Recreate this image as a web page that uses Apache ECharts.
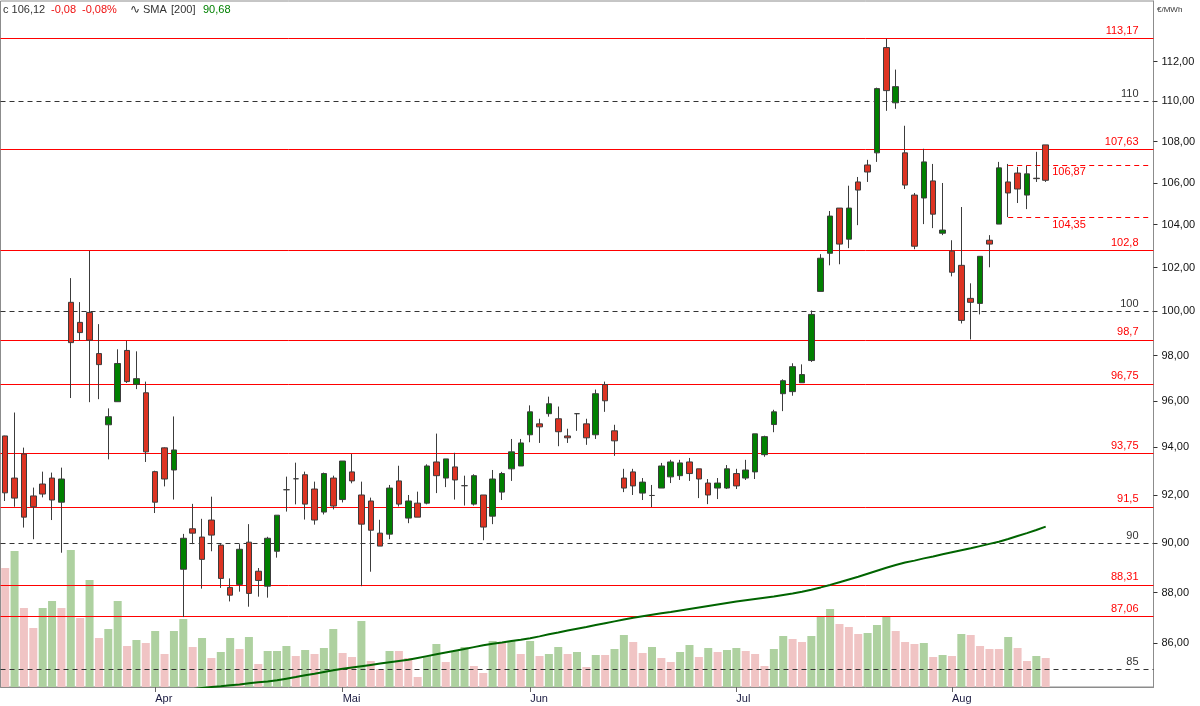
<!DOCTYPE html>
<html>
<head>
<meta charset="utf-8">
<script src="https://cdn.jsdelivr.net/npm/echarts@6/dist/echarts.min.js"></script>
<style>
html,body{margin:0;padding:0;background:#fff;}
#chart{width:1200px;height:706px;}
</style>
</head>
<body>
<div id="chart"></div>
<script>
// ---- data ----
const openP  = [94.49,92.70,93.72,91.95,92.45,92.70,91.69,100.40,99.49,99.94,98.09,94.97,95.97,98.23,96.73,96.36,92.97,93.98,93.04,88.94,90.59,90.25,90.95,89.92,88.21,88.33,90.04,88.86,88.26,89.67,92.21,92.67,92.84,92.24,91.28,92.70,91.80,92.96,91.99,91.74,90.41,90.37,92.58,91.03,91.65,91.65,93.38,92.70,93.17,92.38,91.61,91.99,91.11,92.11,93.09,93.21,94.54,95.01,95.45,95.23,94.49,95.45,95.01,94.54,96.72,94.71,92.70,92.96,92.07,91.97,92.28,92.75,92.80,93.38,93.09,92.49,92.28,92.28,92.89,92.70,92.96,93.69,94.98,96.32,96.41,96.80,97.78,100.90,102.66,104.79,103.32,106.04,106.86,107.45,112.71,109.92,107.45,105.41,105.27,106.09,103.60,102.76,102.10,100.58,100.35,103.27,104.03,106.04,106.47,105.41,106.22,107.84];
const highP  = [94.50,95.50,93.99,92.30,92.97,92.93,93.14,101.51,100.41,102.77,99.41,95.68,98.28,98.66,98.19,96.85,93.01,94.00,95.33,90.38,91.62,91.00,91.92,89.96,88.57,89.96,90.78,88.99,90.26,91.15,92.76,93.35,92.97,92.55,92.93,92.80,93.42,93.72,92.55,91.88,90.96,92.41,93.22,91.99,92.13,93.28,94.59,93.51,93.77,92.80,92.86,91.99,93.04,92.96,94.36,94.36,95.81,95.23,96.19,95.76,94.80,95.47,95.23,96.50,96.85,94.97,93.09,93.09,92.70,92.41,93.34,93.47,93.47,93.55,93.09,92.66,92.70,93.25,93.09,93.47,94.58,94.50,95.62,96.95,97.66,97.61,100.03,102.62,104.65,104.79,105.86,106.28,107.11,110.68,113.17,111.59,108.78,105.51,107.65,106.91,105.99,103.27,104.84,101.27,102.52,103.51,107.01,106.91,106.77,106.81,107.50,107.84];
const lowP   = [91.74,91.50,90.64,90.16,91.89,90.95,89.61,96.13,98.69,95.95,96.08,93.49,95.97,96.79,96.52,93.38,91.24,92.35,91.80,87.03,89.96,88.16,89.67,88.19,87.65,88.04,87.44,87.84,87.80,89.41,91.30,91.60,90.97,90.76,91.18,91.39,91.68,92.48,88.26,88.84,89.88,90.16,91.51,90.82,91.07,91.60,92.07,92.32,91.80,91.55,91.55,90.12,90.78,91.78,92.58,93.21,94.22,94.19,95.32,94.05,94.19,94.71,94.11,94.36,95.53,93.64,92.11,91.99,91.78,91.49,92.28,92.49,92.62,92.58,91.86,91.61,91.82,92.24,92.24,92.62,92.66,93.60,94.65,95.56,96.23,96.80,97.72,100.90,102.10,102.15,102.90,103.98,106.04,107.01,109.52,109.62,105.70,102.85,104.03,103.84,103.51,101.59,99.44,98.72,99.85,102.01,104.03,104.36,105.03,104.74,106.04,106.04];
const closeP = [92.08,91.86,91.07,91.50,92.03,91.78,92.66,98.58,99.03,98.69,97.60,95.32,97.65,96.85,96.98,93.81,91.69,92.66,93.89,90.20,90.41,89.34,90.33,88.57,87.90,89.75,87.97,88.49,90.20,91.15,92.21,92.67,91.61,90.95,92.89,91.53,93.42,92.58,90.78,90.53,89.88,92.28,91.61,91.74,91.07,93.21,92.80,93.51,92.62,92.38,92.80,90.66,92.66,92.89,93.81,94.19,95.53,94.88,95.88,94.67,94.41,95.45,94.41,96.32,96.01,94.28,92.28,92.37,92.53,91.97,93.21,93.38,93.34,92.89,92.66,91.99,92.49,93.09,92.37,93.04,94.58,94.46,95.53,96.89,97.51,97.16,99.85,102.43,104.41,103.09,104.79,105.65,106.52,110.63,110.53,110.73,105.89,102.99,107.01,104.50,103.75,101.78,99.58,100.40,102.52,103.09,106.72,105.51,105.70,106.43,106.20,106.12];
const volume = [4760,5440,3160,2360,3160,3440,3160,5480,2760,4280,1960,2320,3440,1640,1880,1760,2240,1320,2240,2720,1600,1960,1160,1400,1960,1520,2000,920,1440,1440,1640,1240,1480,1320,1560,2320,1360,1200,2640,1040,720,1440,1440,1160,400,1240,1720,1000,1440,1600,840,560,1840,1760,1840,1320,1840,1240,1320,1600,1320,1400,800,1280,1280,1520,2080,1800,1360,1600,1160,1000,1400,1680,1200,1560,1400,1480,1560,1440,1320,840,1520,2040,1920,1800,2040,2800,3120,2520,2400,2120,2160,2480,2800,2240,1800,1720,1760,1200,1280,1240,2120,2080,1640,1520,1520,2000,1560,1040,1240,1160];
const volumeUp = [0,1,0,0,1,1,0,1,0,1,0,1,1,0,1,0,1,0,1,1,0,1,0,1,1,0,1,0,1,1,1,0,1,0,1,1,0,0,1,0,0,1,0,0,0,1,1,0,1,1,0,0,1,0,1,0,1,0,1,1,0,1,0,1,0,1,1,0,0,1,0,0,1,1,0,1,0,1,1,0,0,0,1,1,0,0,1,1,1,0,0,0,1,1,1,0,0,0,1,0,1,0,1,0,0,0,0,1,0,0,1,0];
const sma200 = [null,null,null,null,null,null,null,null,null,null,null,null,null,null,null,null,null,null,null,null,84.23,84.27,84.31,84.34,84.38,84.41,84.45,84.49,84.52,84.57,84.63,84.69,84.76,84.82,84.89,84.95,85.01,85.06,85.11,85.16,85.21,85.26,85.31,85.36,85.43,85.50,85.57,85.64,85.71,85.78,85.85,85.92,85.98,86.03,86.09,86.14,86.20,86.27,86.35,86.42,86.50,86.57,86.64,86.72,86.79,86.86,86.93,87.00,87.06,87.12,87.18,87.23,87.29,87.35,87.41,87.47,87.53,87.59,87.65,87.70,87.75,87.80,87.85,87.91,87.97,88.04,88.12,88.21,88.31,88.42,88.53,88.64,88.76,88.88,89.00,89.11,89.21,89.29,89.38,89.46,89.55,89.63,89.71,89.79,89.88,89.97,90.06,90.17,90.29,90.41,90.54,90.68];
const monthIndex = [16,36,56,78,101];
const monthLabels = ['Apr','Mai','Jun','Jul','Aug'];
const priceTicks = [86,88,90,92,94,96,98,100,102,104,106,108,110,112];
const solidLevels = [113.17,107.63,102.8,98.7,96.75,93.75,91.5,88.31,87.06];
const solidLabels = ['113,17','107,63','102,8','98,7','96,75','93,75','91,5','88,31','87,06'];
const dashedLevels = [110,100,90,85];
const dashedLabels = ['110','100','90','85'];
const rangeLevels = [106.87,104.35];
const rangeLabels = ['106,87','104,35'];
const rangeStart = 107, rangeEnd = 122;
const slotCount = 123;
const priceMin = 84.31, priceMax = 115.12;
const volumeMax = 27440;
const header = {last:'c 106,12', chg:'-0,08', pct:'-0,08%', sma:'SMA', period:'[200]', smaVal:'90,68', unit:'€/MWh'};

// ---- build ----
const LN = Math.log;
const FONT = '"Liberation Sans", Arial, sans-serif';
const categories = [];
for (let i = 0; i < slotCount; i++) categories.push('d' + i);
const candleData = openP.map((o, i) => [LN(o), LN(closeP[i]), LN(lowP[i]), LN(highP[i])]);
const volData = volume.map((v, i) => ({value: v, itemStyle: {color: volumeUp[i] ? '#aed1a0' : '#f0c4c4'}}));
const smaData = sma200.map(v => v == null ? null : LN(v));
const tickLn = priceTicks.map(LN);

const markData = [];
solidLevels.forEach((v, i) => markData.push({
  yAxis: LN(v),
  lineStyle: {color: '#ff0000', type: 'solid', width: 1},
  label: {formatter: solidLabels[i], color: '#ff0000'}
}));
dashedLevels.forEach((v, i) => markData.push({
  yAxis: LN(v),
  lineStyle: {color: '#333333', type: [5, 4], width: 1},
  label: {formatter: dashedLabels[i], color: '#333333'}
}));
rangeLevels.forEach((v, i) => markData.push([
  {coord: [categories[rangeStart], LN(v)],
   lineStyle: {color: '#ff0000', type: [5, 4], width: 1},
   label: {formatter: rangeLabels[i], color: '#ff0000', position: 'insideStartBottom', distance: [44, 2]}},
  {coord: [categories[rangeEnd], LN(v)]}
]));

const chart = echarts.init(document.getElementById('chart'), null, {renderer: 'canvas'});
chart.setOption({
  animation: false,
  backgroundColor: '#ffffff',
  textStyle: {fontFamily: FONT},
  grid: {left: 0.5, right: 46.5, top: 1, bottom: 19, show: true, borderColor: '#8c8c8c', borderWidth: 1, backgroundColor: 'transparent'},
  xAxis: {
    type: 'category', data: categories, boundaryGap: true,
    axisLine: {show: true, lineStyle: {color: '#8c8c8c'}},
    axisTick: {show: true, alignWithLabel: true, length: 5, interval: (i) => monthIndex.includes(i), lineStyle: {color: '#666'}},
    axisLabel: {interval: (i) => monthIndex.includes(i), formatter: (v, i) => monthLabels[monthIndex.indexOf(i)] || '', align: 'left', margin: 6, color: '#1a1a40', fontSize: 11, fontFamily: FONT},
    splitLine: {show: false}
  },
  yAxis: [{
    type: 'value', position: 'right', min: LN(priceMin), max: LN(priceMax),
    axisLine: {show: true, lineStyle: {color: '#8c8c8c'}},
    axisTick: {show: true, length: 4, customValues: tickLn, lineStyle: {color: '#333'}},
    axisLabel: {customValues: tickLn, formatter: (v) => Math.exp(v).toFixed(2).replace('.', ','), margin: 8, color: '#111', fontSize: 11, fontFamily: FONT},
    splitLine: {show: false}
  }, {
    type: 'value', min: 0, max: volumeMax, show: false
  }],
  series: [{
    type: 'bar', name: 'Volume', xAxisIndex: 0, yAxisIndex: 1, data: volData, barWidth: 8, z: 1, silent: true
  }, {
    type: 'candlestick', name: 'Price', xAxisIndex: 0, yAxisIndex: 0, data: candleData, barWidth: 6, z: 6,
    itemStyle: {color: '#008000', color0: '#dd3322', borderColor: '#3c3c3c', borderColor0: '#3c3c3c', borderColorDoji: '#3c3c3c', borderWidth: 1}
  }, {
    type: 'line', name: 'SMA', xAxisIndex: 0, yAxisIndex: 0, data: smaData, showSymbol: false, z: 7,
    lineStyle: {color: '#006400', width: 2}, connectNulls: false,
    markLine: {
      silent: true, symbol: ['none', 'none'], z: 5, animation: false, precision: 10,
      label: {show: true, position: 'insideEndTop', distance: [15, 2], fontSize: 11, fontFamily: FONT},
      data: markData
    }
  }],
  graphic: [
    {type: 'text', x: 3, y: 10, style: {text: header.last, fill: '#333', font: '11px ' + FONT, verticalAlign: 'middle'}},
    {type: 'text', x: 51, y: 10, style: {text: header.chg, fill: '#ee1111', font: '11px ' + FONT, verticalAlign: 'middle'}},
    {type: 'text', x: 82, y: 10, style: {text: header.pct, fill: '#ee1111', font: '11px ' + FONT, verticalAlign: 'middle'}},
    {type: 'text', x: 130, y: 10, style: {text: '∿', fill: '#333', font: '12px "DejaVu Sans"', verticalAlign: 'middle'}},
    {type: 'text', x: 143, y: 10, style: {text: header.sma, fill: '#333', font: '11px ' + FONT, verticalAlign: 'middle'}},
    {type: 'text', x: 171, y: 10, style: {text: header.period, fill: '#333', font: '11px ' + FONT, verticalAlign: 'middle'}},
    {type: 'text', x: 203, y: 10, style: {text: header.smaVal, fill: '#008000', font: '11px ' + FONT, verticalAlign: 'middle'}},
    {type: 'text', x: 1157, y: 10, style: {text: header.unit, fill: '#333', font: '8px ' + FONT, verticalAlign: 'middle'}}
  ]
});
</script>
</body>
</html>
